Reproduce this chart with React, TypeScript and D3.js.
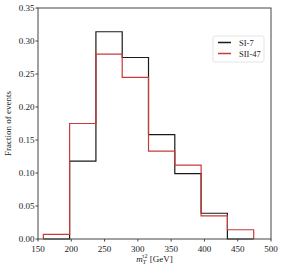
import * as d3 from "d3";

// bin edges [GeV]
const binEdges = [158, 197.5, 237, 276.5, 316, 355.5, 395, 434.5, 474];
const si7 = [0, 0.118, 0.314, 0.275, 0.158, 0.099, 0.039, 0];
const sii47 = [0.007, 0.175, 0.28, 0.245, 0.133, 0.112, 0.035, 0.014];
const xTicks = [150, 200, 250, 300, 350, 400, 450, 500];
const yTicks = [0, 0.05, 0.1, 0.15, 0.2, 0.25, 0.3, 0.35];

const series = [
  { name: "SI-7", values: si7, color: "#1a1a1a" },
  { name: "SII-47", values: sii47, color: "#c93a3a" },
];

const W = 283;
const H = 271;
const M = { top: 8, right: 12, bottom: 32, left: 38 };
const FONT = "'Liberation Serif', 'DejaVu Serif', serif";

export default function App() {
  const x = d3.scaleLinear().domain([150, 500]).range([M.left, W - M.right]);
  const y = d3.scaleLinear().domain([0, 0.35]).range([H - M.bottom, M.top]);

  const stepPath = (vals: number[]) => {
    const pts: [number, number][] = [[binEdges[0], 0]];
    vals.forEach((v, i) => {
      pts.push([binEdges[i], v]);
      pts.push([binEdges[i + 1], v]);
    });
    pts.push([binEdges[binEdges.length - 1], 0]);
    return d3.line<[number, number]>()
      .x((d) => x(d[0]))
      .y((d) => y(d[1]))(pts) || "";
  };

  const x0 = x.range()[0];
  const x1 = x.range()[1];
  const y0 = y.range()[0];
  const y1 = y.range()[1];

  return (
    <svg
      width={W}
      height={H}
      style={{ position: "absolute", left: 0, top: 0, background: "#fff" }}
      fontFamily={FONT}
    >
      {series.map((s) => (
        <path key={s.name} d={stepPath(s.values)} fill="none" stroke={s.color} strokeWidth={1.2} />
      ))}
      <rect x={x0} y={y1} width={x1 - x0} height={y0 - y1} fill="none" stroke="#444" strokeWidth={1} />
      {xTicks.map((t) => (
        <g key={t}>
          <line x1={x(t)} x2={x(t)} y1={y0} y2={y0 + 2.5} stroke="#444" />
          <text x={x(t)} y={y0 + 12.5} textAnchor="middle" fontSize={9} fill="#222">{t}</text>
        </g>
      ))}
      {yTicks.map((t) => (
        <g key={t}>
          <line x1={x0 - 2.5} x2={x0} y1={y(t)} y2={y(t)} stroke="#444" />
          <text x={x0 - 3.5} y={y(t) + 3} textAnchor="end" fontSize={9} fill="#222">{d3.format(".2f")(t)}</text>
        </g>
      ))}
      <text x={(x0 + x1) / 2} y={262} textAnchor="middle" fontSize={9} fill="#222">
        <tspan fontStyle="italic">m</tspan>
        <tspan fontStyle="italic" fontSize={6} dy={2}>T</tspan>
        <tspan fontSize={6} dx={-4} dy={-6}>τ2</tspan>
        <tspan dy={4}> [GeV]</tspan>
      </text>
      <text
        transform={`translate(11,${(y0 + y1) / 2}) rotate(-90)`}
        textAnchor="middle"
        fontSize={9}
        fill="#222"
      >
        Fraction of events
      </text>
      <g transform="translate(213,36)">
        <rect x={0} y={0} width={51} height={26} rx={2} fill="#fff" stroke="#ddd" strokeWidth={0.8} />
        {series.map((s, i) => (
          <g key={s.name} transform={`translate(0,${6.5 + i * 11})`}>
            <line x1={5} x2={18} y1={0} y2={0} stroke={s.color} strokeWidth={1.5} />
            <text x={26} y={3} fontSize={8.5} fill="#222">{s.name}</text>
          </g>
        ))}
      </g>
    </svg>
  );
}
